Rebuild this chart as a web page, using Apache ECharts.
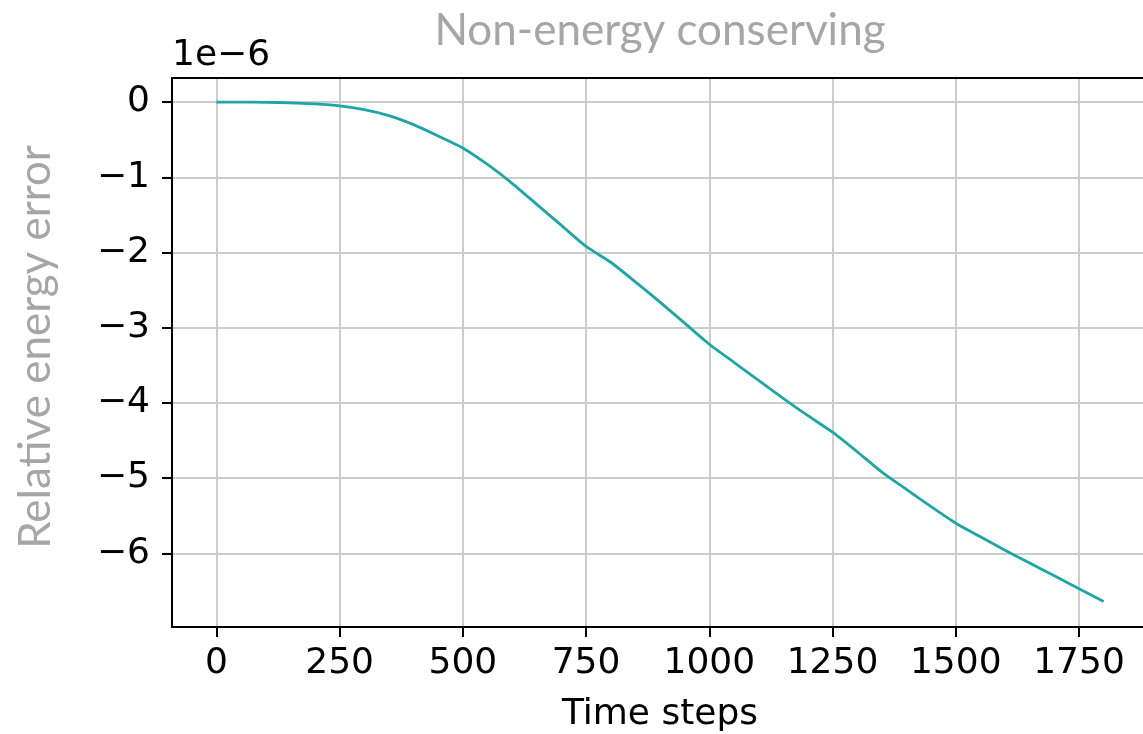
<!DOCTYPE html>
<html>
<head>
<meta charset="utf-8">
<script src="https://cdn.jsdelivr.net/npm/echarts@6/dist/echarts.min.js"></script>
<style>
  html, body { margin: 0; padding: 0; background: #fff; }
  #chart { width: 1143px; height: 734px; }
</style>
</head>
<body>
<div id="chart"></div>
<script>
// time steps and relative energy error (in units of 1e-6)
const steps = [0, 50, 100, 150, 200, 250, 300, 350, 400, 450, 500, 550, 600, 650, 700,
  750, 800, 850, 900, 950, 1000, 1050, 1100, 1150, 1200, 1250, 1300, 1350, 1400,
  1450, 1500, 1550, 1600, 1650, 1700, 1750, 1800];
const energyError = [0, 0, -0.003, -0.01, -0.025, -0.05, -0.1, -0.18, -0.3, -0.45,
  -0.61, -0.83, -1.08, -1.36, -1.64, -1.92, -2.13, -2.39, -2.66, -2.94, -3.22, -3.46,
  -3.70, -3.94, -4.17, -4.39, -4.65, -4.92, -5.15, -5.38, -5.60, -5.78, -5.96,
  -6.13, -6.30, -6.47, -6.64];
const xTicks = [0, 250, 500, 750, 1000, 1250, 1500, 1750];
const yTicks = [-6, -5, -4, -3, -2, -1, 0];

const chart = echarts.init(document.getElementById('chart'));
const tickFont = { fontFamily: 'DejaVu Sans', fontSize: 36, color: '#000' };
const minus = v => (v < 0 ? '\u2212' + Math.abs(v) : String(v));

chart.setOption({
  animation: false,
  grid: { left: 172, top: 78, right: -5, bottom: 107, outerBoundsMode: 'none' },
  title: {
    text: 'Non-energy conserving',
    left: 655, top: 4, textAlign: 'center',
    textStyle: { fontFamily: 'Lato', fontWeight: 'normal', fontSize: 44, color: '#a6a6a6' }
  },
  graphic: [
    {
      type: 'text', left: 172, top: 38,
      style: { text: '1e\u22126', font: '36px "DejaVu Sans"', fill: '#000' }
    },
    {
      type: 'text', x: 36, y: 347, rotation: Math.PI / 2,
      style: {
        text: 'Relative energy error', font: '44px Lato', fill: '#a6a6a6',
        align: 'center', verticalAlign: 'middle'
      }
    }
  ],
  xAxis: [
    {
      type: 'value', min: -90, max: 1890,
      name: 'Time steps', nameLocation: 'middle', nameGap: 70,
      nameTextStyle: tickFont,
      axisLine: { onZero: false, lineStyle: { color: '#000', width: 2 } },
      axisTick: { customValues: xTicks, length: 10, lineStyle: { color: '#000', width: 2 } },
      axisLabel: { customValues: xTicks, margin: 19, formatter: v => String(v), ...tickFont },
      splitLine: { show: true, lineStyle: { color: '#cccccc', width: 2 } }
    },
    {
      type: 'value', position: 'top', min: -90, max: 1890, z: 5,
      axisLine: { show: true, onZero: false, lineStyle: { color: '#000', width: 2 } },
      axisTick: { show: false }, axisLabel: { show: false }, splitLine: { show: false }
    }
  ],
  yAxis: {
    type: 'value', min: -6.98, max: 0.32,
    axisLine: { show: true, onZero: false, lineStyle: { color: '#000', width: 2 } },
    axisTick: { show: true, customValues: yTicks, length: 10, lineStyle: { color: '#000', width: 2 } },
    axisLabel: { customValues: yTicks, margin: 22, formatter: minus, ...tickFont },
    splitLine: { show: true, lineStyle: { color: '#cccccc', width: 2 } }
  },
  series: [{
    type: 'line',
    data: steps.map((s, i) => [s, energyError[i]]),
    showSymbol: false,
    smooth: 0.2,
    lineStyle: { color: '#1fa5a5', width: 2.8 }
  }]
});
</script>
</body>
</html>
